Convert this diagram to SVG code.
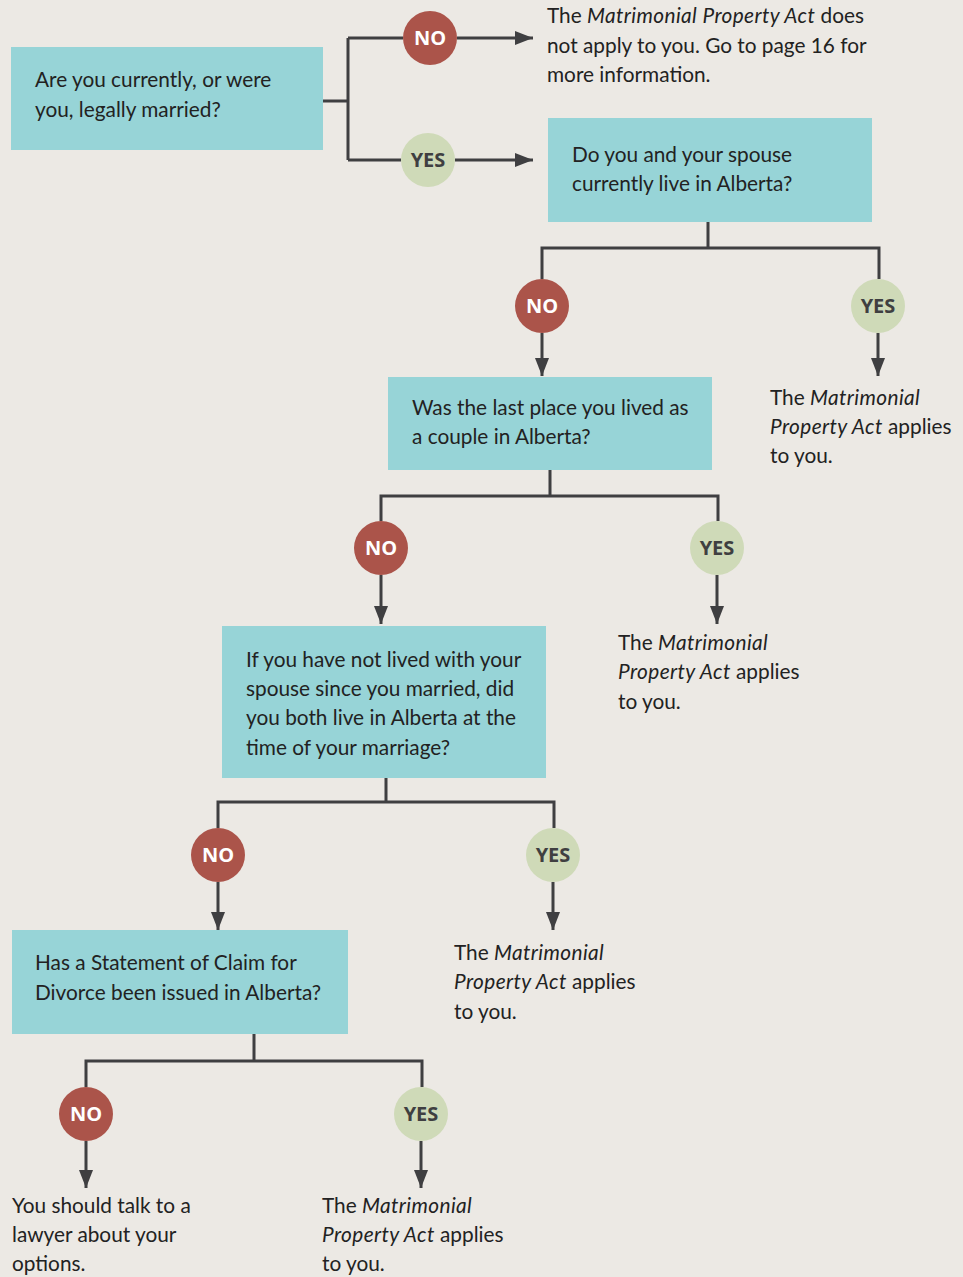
<svg xmlns="http://www.w3.org/2000/svg" width="963" height="1277" viewBox="0 0 963 1277">
<defs>
<marker id="ah" markerWidth="18" markerHeight="14" refX="18" refY="7" orient="auto" markerUnits="userSpaceOnUse">
<path d="M0,0 L18,7 L0,14 Z" fill="#3f3f41"/>
</marker>
<style>
.bg{fill:#ece9e4}
.box{fill:#97d4d7}
.t{font-family:Lato,"Liberation Sans",sans-serif;font-size:20.8px;fill:#222}
.i{font-style:italic;letter-spacing:0.4px}
.no{fill:#ab544a}
.yes{fill:#cfdab8}
.lbl{font-family:"Open Sans","Liberation Sans",sans-serif;font-size:20px;font-weight:bold;text-anchor:middle}
.lno{fill:#fff}
.lyes{fill:#3f3f41}
.ln{fill:none;stroke:#3f3f41;stroke-width:3}
</style>
</defs>
<rect class="bg" x="0" y="0" width="963" height="1277"/>

<g id="connectors">
<path class="ln" d="M323,101 H348 M348,38 V160 M348,38 H403 M348,160 H401"/>
<path class="ln" d="M457,38 H533" marker-end="url(#ah)"/>
<path class="ln" d="M455,160 H533" marker-end="url(#ah)"/>
<path class="ln" d="M708,222 V248 M542,279 V248 H879 V279"/>
<path class="ln" d="M542,333 V376" marker-end="url(#ah)"/>
<path class="ln" d="M878,333 V376" marker-end="url(#ah)"/>
<path class="ln" d="M550,470 V496 M381,521 V496 H718 V521"/>
<path class="ln" d="M381,575 V624" marker-end="url(#ah)"/>
<path class="ln" d="M717,575 V624" marker-end="url(#ah)"/>
<path class="ln" d="M386,778 V802 M218,828 V802 H554 V828"/>
<path class="ln" d="M218,882 V930" marker-end="url(#ah)"/>
<path class="ln" d="M553,882 V930" marker-end="url(#ah)"/>
<path class="ln" d="M254,1034 V1061 M86,1087 V1061 H422 V1087"/>
<path class="ln" d="M86,1141 V1188" marker-end="url(#ah)"/>
<path class="ln" d="M421,1141 V1188" marker-end="url(#ah)"/>
</g>

<g id="q1">
<rect class="box" x="11" y="47" width="312" height="103"/>
<text class="t" x="35" y="87">Are you currently, or were</text>
<text class="t" x="35" y="117">you, legally married?</text>
</g>
<g id="no1"><circle class="no" cx="430" cy="38" r="27"/><text class="lbl lno" x="430" y="45">NO</text></g>
<g id="yes1"><circle class="yes" cx="428" cy="160" r="27"/><text class="lbl lyes" x="428" y="167">YES</text></g>
<g id="r1">
<text class="t" x="547" y="23">The <tspan class="i">Matrimonial Property Act</tspan> does</text>
<text class="t" x="547" y="53">not apply to you. Go to page 16 for</text>
<text class="t" x="547" y="82">more information.</text>
</g>

<g id="q2">
<rect class="box" x="548" y="118" width="324" height="104"/>
<text class="t" x="572" y="162">Do you and your spouse</text>
<text class="t" x="572" y="191">currently live in Alberta?</text>
</g>
<g id="no2"><circle class="no" cx="542" cy="306" r="27"/><text class="lbl lno" x="542" y="313">NO</text></g>
<g id="yes2"><circle class="yes" cx="878" cy="306" r="27"/><text class="lbl lyes" x="878" y="313">YES</text></g>
<g id="r2">
<text class="t" x="770" y="405">The <tspan class="i">Matrimonial</tspan></text>
<text class="t" x="770" y="434"><tspan class="i">Property Act</tspan> applies</text>
<text class="t" x="770" y="463">to you.</text>
</g>

<g id="q3">
<rect class="box" x="388" y="377" width="324" height="93"/>
<text class="t" x="412" y="415">Was the last place you lived as</text>
<text class="t" x="412" y="444">a couple in Alberta?</text>
</g>
<g id="no3"><circle class="no" cx="381" cy="548" r="27"/><text class="lbl lno" x="381" y="555">NO</text></g>
<g id="yes3"><circle class="yes" cx="717" cy="548" r="27"/><text class="lbl lyes" x="717" y="555">YES</text></g>
<g id="r3">
<text class="t" x="618" y="650">The <tspan class="i">Matrimonial</tspan></text>
<text class="t" x="618" y="679"><tspan class="i">Property Act</tspan> applies</text>
<text class="t" x="618" y="709">to you.</text>
</g>

<g id="q4">
<rect class="box" x="222" y="626" width="324" height="152"/>
<text class="t" x="246" y="667">If you have not lived with your</text>
<text class="t" x="246" y="696">spouse since you married, did</text>
<text class="t" x="246" y="725">you both live in Alberta at the</text>
<text class="t" x="246" y="755">time of your marriage?</text>
</g>
<g id="no4"><circle class="no" cx="218" cy="855" r="27"/><text class="lbl lno" x="218" y="862">NO</text></g>
<g id="yes4"><circle class="yes" cx="553" cy="855" r="27"/><text class="lbl lyes" x="553" y="862">YES</text></g>
<g id="r4">
<text class="t" x="454" y="960">The <tspan class="i">Matrimonial</tspan></text>
<text class="t" x="454" y="989"><tspan class="i">Property Act</tspan> applies</text>
<text class="t" x="454" y="1019">to you.</text>
</g>

<g id="q5">
<rect class="box" x="12" y="930" width="336" height="104"/>
<text class="t" x="35" y="970">Has a Statement of Claim for</text>
<text class="t" x="35" y="1000">Divorce been issued in Alberta?</text>
</g>
<g id="no5"><circle class="no" cx="86" cy="1114" r="27"/><text class="lbl lno" x="86" y="1121">NO</text></g>
<g id="yes5"><circle class="yes" cx="421" cy="1114" r="27"/><text class="lbl lyes" x="421" y="1121">YES</text></g>
<g id="r5no">
<text class="t" x="12" y="1213">You should talk to a</text>
<text class="t" x="12" y="1242">lawyer about your</text>
<text class="t" x="12" y="1271">options.</text>
</g>
<g id="r5yes">
<text class="t" x="322" y="1213">The <tspan class="i">Matrimonial</tspan></text>
<text class="t" x="322" y="1242"><tspan class="i">Property Act</tspan> applies</text>
<text class="t" x="322" y="1271">to you.</text>
</g>
</svg>
